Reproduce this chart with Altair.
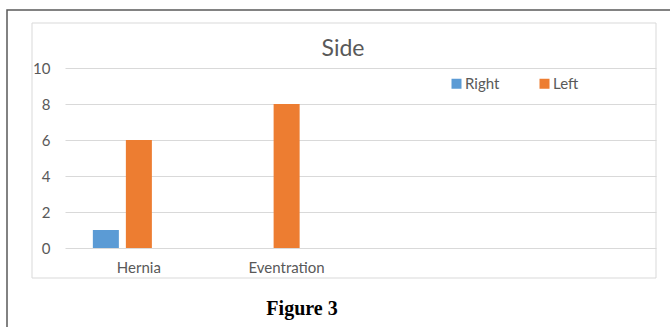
import altair as alt
import pandas as pd

# ---- data ----
categories = ["Hernia", "Eventration", " ", "  "]
series = ["Right", "Left"]
right_values = [1, 0]
left_values = [6, 8]
colors = ["#5b9bd5", "#ed7d31"]
y_ticks = [0, 2, 4, 6, 8, 10]
chart_title = "Side"
caption = "Figure 3"

rows = []
for i, c in enumerate(categories[:2]):
    rows.append({"category": c, "side": series[0], "count": right_values[i]})
    rows.append({"category": c, "side": series[1], "count": left_values[i]})
df = pd.DataFrame(rows)

# plot area geometry (pixels)
W, H = 591, 180
PL, PT = 65, 68
TXT = "#595959"
FONT = "Lato"

one = pd.DataFrame({"a": [0]})

outer = alt.Chart(one).mark_rect(fillOpacity=0, stroke="#595959", strokeWidth=1.5).encode(
    x=alt.value(7 - PL), x2=alt.value(720), y=alt.value(10 - PT), y2=alt.value(320)
)
inner = alt.Chart(one).mark_rect(fillOpacity=0, stroke="#d9d9d9", strokeWidth=1).encode(
    x=alt.value(32 - PL), x2=alt.value(656 - PL), y=alt.value(23 - PT), y2=alt.value(278 - PT)
)

bars = alt.Chart(df).mark_bar().encode(
    x=alt.X(
        "category:N",
        sort=categories,
        scale=alt.Scale(domain=categories, paddingInner=0.377, paddingOuter=0.1885),
        axis=alt.Axis(title=None, labelAngle=0, domain=False, ticks=False, grid=False,
                      labelPadding=12, labelFontSize=15, labelColor=TXT, labelFont=FONT),
    ),
    xOffset=alt.XOffset("side:N", scale=alt.Scale(domain=series + ["_"], paddingInner=0.212, paddingOuter=0)),
    y=alt.Y(
        "count:Q",
        scale=alt.Scale(domain=[0, 10], nice=False),
        axis=alt.Axis(title=None, values=y_ticks, domain=False, ticks=False, labelPadding=15,
                      labelFontSize=15, labelColor=TXT, labelFont=FONT,
                      gridColor="#d9d9d9", gridWidth=1),
    ),
    color=alt.Color(
        "side:N",
        scale=alt.Scale(domain=series, range=colors),
        legend=alt.Legend(title=None, orient="none", legendX=384, legendY=8, direction="horizontal",
                          symbolType="square", symbolSize=100, symbolStrokeWidth=0,
                          labelFontSize=15, labelColor=TXT, labelFont=FONT, labelOffset=1,
                          columnPadding=37, padding=0),
    ),
)

title_txt = alt.Chart(one).mark_text(fontSize=23, color=TXT, font=FONT, align="center", baseline="middle").encode(
    x=alt.value(343 - PL), y=alt.value(49 - PT), text=alt.value(chart_title)
)
cap_txt = alt.Chart(one).mark_text(fontSize=20, fontWeight="bold", color="#000000", font="Liberation Serif",
                                   align="center", baseline="middle").encode(
    x=alt.value(302 - PL), y=alt.value(309 - PT), text=alt.value(caption)
)

chart = alt.layer(outer, inner, bars, title_txt, cap_txt).properties(
    width=W, height=H,
    autosize=alt.AutoSizeParams(type="none"),
    padding={"left": PL, "top": PT, "right": 670 - PL - W, "bottom": 327 - PT - H},
    background="white",
).configure_view(stroke=None)

chart.save("out.html", embed_options={"renderer": "svg", "actions": False})
